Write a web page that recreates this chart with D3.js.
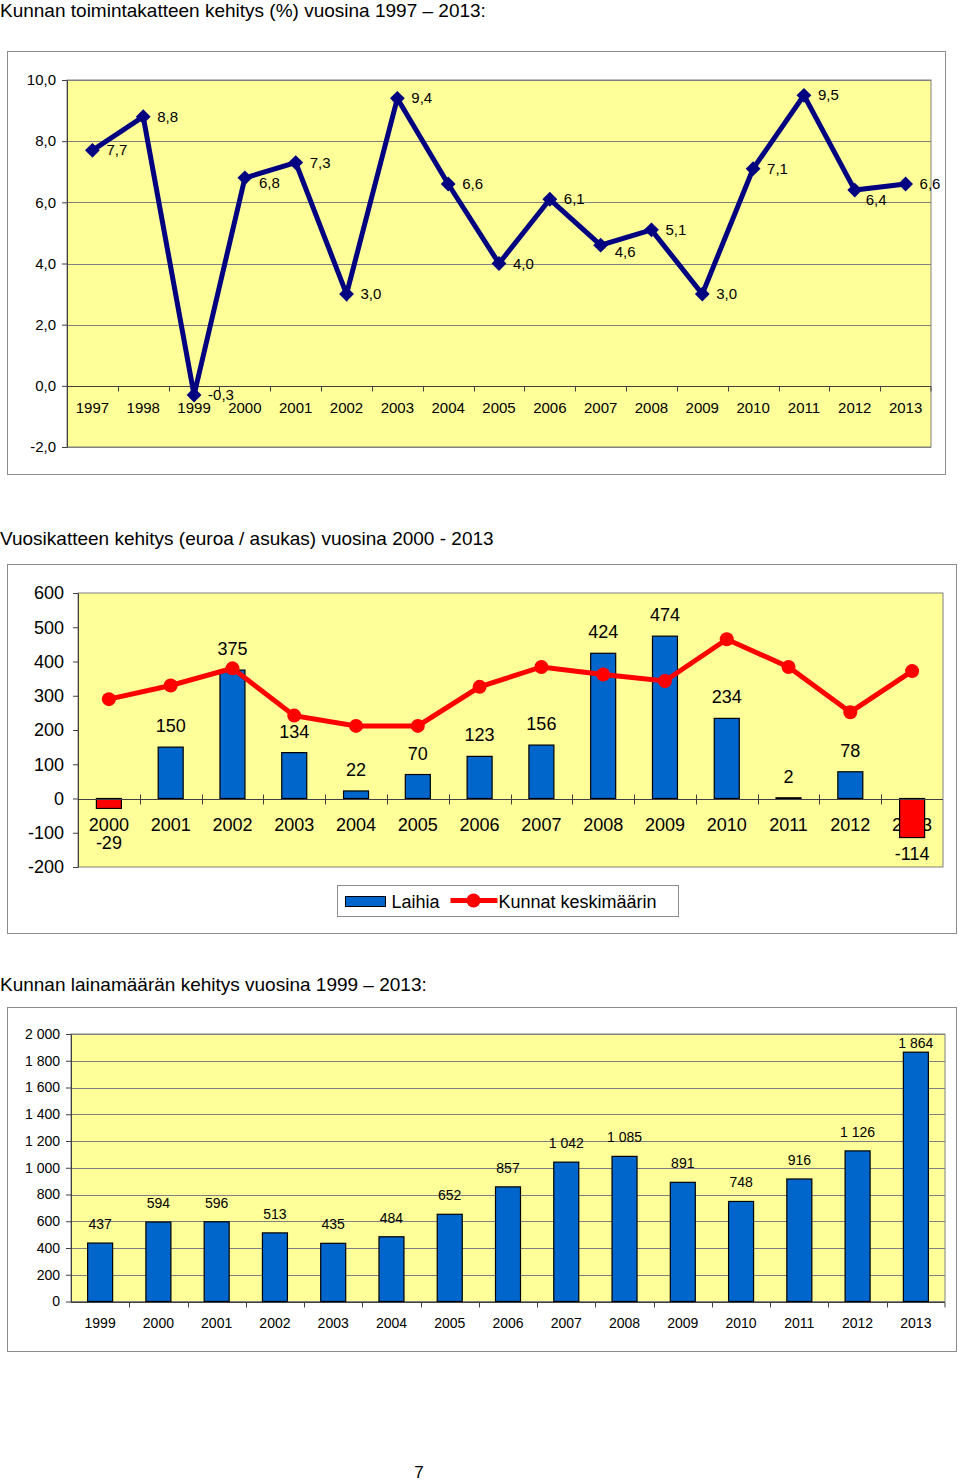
<!DOCTYPE html>
<html>
<head>
<meta charset="utf-8">
<script src="https://cdn.jsdelivr.net/npm/d3@7"></script>
<style>
body { margin: 0; background: #fff; }
text { font-family: "Liberation Sans", Arial, sans-serif; fill: #000; }
</style>
</head>
<body>
<div id="mainArea"></div>
<script>
// chart 1: toimintakate %
var years1 = ["1997","1998","1999","2000","2001","2002","2003","2004","2005","2006","2007","2008","2009","2010","2011","2012","2013"];
var toimintakate = [7.7, 8.8, -0.3, 6.8, 7.3, 3.0, 9.4, 6.6, 4.0, 6.1, 4.6, 5.1, 3.0, 7.1, 9.5, 6.4, 6.6];
var ticks1 = [-2, 0, 2, 4, 6, 8, 10];

// chart 2: vuosikate euroa / asukas
var years2 = ["2000","2001","2002","2003","2004","2005","2006","2007","2008","2009","2010","2011","2012","2013"];
var laihia = [-29, 150, 375, 134, 22, 70, 123, 156, 424, 474, 234, 2, 78, -114];
var kunnat = [290, 330, 380, 242, 212, 212, 326, 384, 362, 343, 465, 384, 252, 372];
var ticks2 = [-200, -100, 0, 100, 200, 300, 400, 500, 600];

// chart 3: lainamaara
var years3 = ["1999","2000","2001","2002","2003","2004","2005","2006","2007","2008","2009","2010","2011","2012","2013"];
var lainamaara = [437, 594, 596, 513, 435, 484, 652, 857, 1042, 1085, 891, 748, 916, 1126, 1864];
var ticks3 = [0, 200, 400, 600, 800, 1000, 1200, 1400, 1600, 1800, 2000];

var fi = d3.formatLocale({decimal: ",", thousands: "\u00a0", grouping: [3], currency: ["", " €"], minus: "-"});
var fmt1 = fi.format(".1f");
var fmtInt = fi.format(",d");
var fmtPlain = fi.format("d");

var yellow = "#FFFF99", frameCol = "#8c8c8c", axisCol = "#404040", gridCol = "#808080";

function mainInit()
{
	var svg = d3.select("#mainArea").append("svg")
		.attr("width", 960).attr("height", 1481);

	// ---------------- chart 1 ----------------
	svg.append("text").attr("x", 0).attr("y", 17).style("font-size", "19px")
		.text("Kunnan toimintakatteen kehitys (%) vuosina 1997 – 2013:");
	svg.append("rect").attr("x", 7.5).attr("y", 51.5).attr("width", 938).attr("height", 423)
		.attr("fill", "#fff").attr("stroke", frameCol);

	var x1 = d3.scaleBand().domain(years1).range([67, 931]);
	var y1 = d3.scaleLinear().domain([-2, 10]).range([447, 80]);
	var g1 = svg.append("g");

	g1.append("rect").attr("x", 67).attr("y", 80).attr("width", 864).attr("height", 367)
		.attr("fill", yellow).attr("stroke", gridCol);
	g1.selectAll("line.grid").data(ticks1).enter().append("line")
		.attr("x1", 67).attr("x2", 931)
		.attr("y1", function(d) { return Math.round(y1(d)) + 0.5; })
		.attr("y2", function(d) { return Math.round(y1(d)) + 0.5; })
		.attr("stroke", gridCol);

	var ya1 = g1.append("g").attr("transform", "translate(67,0)")
		.call(d3.axisLeft(y1).tickValues(ticks1).tickFormat(fmt1).tickSize(5).tickSizeOuter(0));
	ya1.selectAll("text").style("font-size", "15px").attr("x", -11);
	ya1.selectAll("line, path").attr("stroke", axisCol);

	// category axis on the zero line, ticks between categories
	var zero1 = Math.round(y1(0)) + 0.5;
	g1.append("line").attr("x1", 67).attr("x2", 931).attr("y1", zero1).attr("y2", zero1).attr("stroke", axisCol);
	g1.selectAll("line.ctick").data(years1.slice(1).concat(["end"])).enter().append("line")
		.attr("x1", function(d) { return d == "end" ? 931 : Math.round(x1(d)) + 0.5; })
		.attr("x2", function(d) { return d == "end" ? 931 : Math.round(x1(d)) + 0.5; })
		.attr("y1", zero1).attr("y2", zero1 + 5).attr("stroke", axisCol);
	g1.selectAll("text.cat").data(years1).enter().append("text")
		.attr("x", function(d) { return x1(d) + x1.bandwidth() / 2; })
		.attr("y", y1(0) + 27).attr("text-anchor", "middle").style("font-size", "15px")
		.text(function(d) { return d; });

	var line1 = d3.line()
		.x(function(d, i) { return x1(years1[i]) + x1.bandwidth() / 2; })
		.y(function(d) { return y1(d); });
	g1.append("path").datum(toimintakate).attr("d", line1)
		.attr("fill", "none").attr("stroke", "#000080").attr("stroke-width", 5).attr("stroke-linejoin", "miter");
	g1.selectAll("path.mark").data(toimintakate).enter().append("path")
		.attr("d", d3.symbol().type(d3.symbolSquare).size(110))
		.attr("transform", function(d, i) {
			return "translate(" + (x1(years1[i]) + x1.bandwidth() / 2) + "," + y1(d) + ") rotate(45)";
		})
		.attr("fill", "#000080");
	// labels to the right of the points; a few pushed down so they miss the line
	var drop1 = {"2000": 5, "2007": 7, "2012": 10};
	g1.selectAll("text.val").data(toimintakate).enter().append("text")
		.attr("x", function(d, i) { return x1(years1[i]) + x1.bandwidth() / 2 + (years1[i] == "2012" ? 11 : 14); })
		.attr("y", function(d, i) { return y1(d) + 5 + (drop1[years1[i]] || 0); })
		.style("font-size", "15px")
		.text(function(d) { return fmt1(d); });

	// ---------------- chart 2 ----------------
	svg.append("text").attr("x", 0).attr("y", 545).style("font-size", "19px")
		.text("Vuosikatteen kehitys (euroa / asukas) vuosina 2000 - 2013");
	svg.append("rect").attr("x", 7.5).attr("y", 564.5).attr("width", 949).attr("height", 369)
		.attr("fill", "#fff").attr("stroke", frameCol);

	var x2 = d3.scaleBand().domain(years2).range([78, 943]);
	var y2 = d3.scaleLinear().domain([-200, 600]).range([867, 593]);
	var g2 = svg.append("g");
	var bw2 = 25;

	g2.append("rect").attr("x", 78).attr("y", 593).attr("width", 865).attr("height", 274)
		.attr("fill", yellow).attr("stroke", gridCol);

	var ya2 = g2.append("g").attr("transform", "translate(78,0)")
		.call(d3.axisLeft(y2).tickValues(ticks2).tickFormat(fmtPlain).tickSize(5).tickSizeOuter(0));
	ya2.selectAll("text").style("font-size", "18px").attr("x", -14);
	ya2.selectAll("line, path").attr("stroke", axisCol);

	var zero2 = Math.round(y2(0)) + 0.5;
	g2.selectAll("text.cat").data(years2).enter().append("text")
		.attr("x", function(d) { return x2(d) + x2.bandwidth() / 2; })
		.attr("y", y2(0) + 32).attr("text-anchor", "middle").style("font-size", "18px")
		.text(function(d) { return d; });

	g2.selectAll("rect.bar").data(laihia).enter().append("rect")
		.attr("x", function(d, i) { return x2(years2[i]) + (x2.bandwidth() - bw2) / 2; })
		.attr("y", function(d) { return Math.min(y2(d), y2(0)); })
		.attr("width", bw2)
		.attr("height", function(d) { return Math.abs(y2(d) - y2(0)); })
		.attr("fill", function(d) { return d < 0 ? "#FF0000" : "#0066CC"; })
		.attr("stroke", "#000").attr("stroke-width", 1.2);

	g2.append("line").attr("x1", 78).attr("x2", 943).attr("y1", zero2).attr("y2", zero2).attr("stroke", axisCol);
	g2.selectAll("line.ctick").data(years2.slice(1)).enter().append("line")
		.attr("x1", function(d) { return Math.round(x2(d)) + 0.5; })
		.attr("x2", function(d) { return Math.round(x2(d)) + 0.5; })
		.attr("y1", zero2 - 5).attr("y2", zero2 + 5).attr("stroke", axisCol);

	var line2 = d3.line()
		.x(function(d, i) { return x2(years2[i]) + x2.bandwidth() / 2; })
		.y(function(d) { return y2(d); });
	g2.append("path").datum(kunnat).attr("d", line2)
		.attr("fill", "none").attr("stroke", "#FF0000").attr("stroke-width", 5);
	g2.selectAll("circle.pt").data(kunnat).enter().append("circle")
		.attr("cx", function(d, i) { return x2(years2[i]) + x2.bandwidth() / 2; })
		.attr("cy", function(d) { return y2(d); })
		.attr("r", 7).attr("fill", "#FF0000");

	g2.selectAll("text.val").data(laihia).enter().append("text")
		.attr("x", function(d, i) { return x2(years2[i]) + x2.bandwidth() / 2; })
		.attr("y", function(d, i) {
			if (d >= 0) return y2(d) - 15;
			return y2(d) + (years2[i] == "2000" ? 41 : 22);
		})
		.attr("text-anchor", "middle").style("font-size", "18px")
		.text(function(d) { return fmtPlain(d); });

	// legend
	var lg = g2.append("g").attr("transform", "translate(337.5,885.5)");
	lg.append("rect").attr("width", 341).attr("height", 31).attr("fill", "#fff").attr("stroke", frameCol);
	lg.append("rect").attr("x", 8).attr("y", 11).attr("width", 40).attr("height", 10)
		.attr("fill", "#0066CC").attr("stroke", "#000");
	lg.append("text").attr("x", 54).attr("y", 22).style("font-size", "18px").text("Laihia");
	lg.append("line").attr("x1", 113).attr("x2", 160).attr("y1", 15).attr("y2", 15)
		.attr("stroke", "#FF0000").attr("stroke-width", 5);
	lg.append("circle").attr("cx", 136).attr("cy", 15).attr("r", 7).attr("fill", "#FF0000");
	lg.append("text").attr("x", 161).attr("y", 22).style("font-size", "18px").text("Kunnat keskimäärin");

	// ---------------- chart 3 ----------------
	svg.append("text").attr("x", 0).attr("y", 991).style("font-size", "19px")
		.text("Kunnan lainamäärän kehitys vuosina 1999 – 2013:");
	svg.append("rect").attr("x", 7.5).attr("y", 1007.5).attr("width", 949).attr("height", 344)
		.attr("fill", "#fff").attr("stroke", frameCol);

	var x3 = d3.scaleBand().domain(years3).range([71, 945]);
	var y3 = d3.scaleLinear().domain([0, 2000]).range([1301.5, 1034]);
	var g3 = svg.append("g");
	var bw3 = 25;

	g3.append("rect").attr("x", 71).attr("y", 1034).attr("width", 874).attr("height", 267.5)
		.attr("fill", yellow).attr("stroke", gridCol);
	g3.selectAll("line.grid").data(ticks3).enter().append("line")
		.attr("x1", 71).attr("x2", 945)
		.attr("y1", function(d) { return Math.round(y3(d)) + 0.5; })
		.attr("y2", function(d) { return Math.round(y3(d)) + 0.5; })
		.attr("stroke", gridCol);

	g3.selectAll("rect.bar").data(lainamaara).enter().append("rect")
		.attr("x", function(d, i) { return x3(years3[i]) + (x3.bandwidth() - bw3) / 2; })
		.attr("y", function(d) { return y3(d); })
		.attr("width", bw3)
		.attr("height", function(d) { return y3(0) - y3(d); })
		.attr("fill", "#0066CC").attr("stroke", "#000").attr("stroke-width", 1.2);

	var ya3 = g3.append("g").attr("transform", "translate(71,0)")
		.call(d3.axisLeft(y3).tickValues(ticks3).tickFormat(fmtInt).tickSize(5).tickSizeOuter(0));
	ya3.selectAll("text").style("font-size", "14px").attr("x", -11);
	ya3.selectAll("line, path").attr("stroke", axisCol);

	var xa3 = g3.append("g").attr("transform", "translate(0," + (Math.round(y3(0)) + 0.5) + ")");
	xa3.append("line").attr("x1", 71).attr("x2", 945).attr("stroke", axisCol);
	xa3.selectAll("line.ctick").data(years3.slice(1).concat(["end"])).enter().append("line")
		.attr("x1", function(d) { return d == "end" ? 945 : Math.round(x3(d)) + 0.5; })
		.attr("x2", function(d) { return d == "end" ? 945 : Math.round(x3(d)) + 0.5; })
		.attr("y1", 0).attr("y2", 5).attr("stroke", axisCol);
	g3.selectAll("text.cat").data(years3).enter().append("text")
		.attr("x", function(d) { return x3(d) + x3.bandwidth() / 2; })
		.attr("y", y3(0) + 26).attr("text-anchor", "middle").style("font-size", "14px")
		.text(function(d) { return d; });

	// labels above bars, kept inside the plot area
	g3.selectAll("text.val").data(lainamaara).enter().append("text")
		.attr("x", function(d, i) { return x3(years3[i]) + x3.bandwidth() / 2; })
		.attr("y", function(d) { return Math.max(y3(d) - 14, y3.range()[1] + 14); })
		.attr("text-anchor", "middle").style("font-size", "14px")
		.text(function(d) { return fmtInt(d); });

	// page number
	svg.append("text").attr("x", 419).attr("y", 1478).attr("text-anchor", "middle")
		.style("font-size", "17px").text("7");
};

window.onload = mainInit;
</script>
</body>
</html>
